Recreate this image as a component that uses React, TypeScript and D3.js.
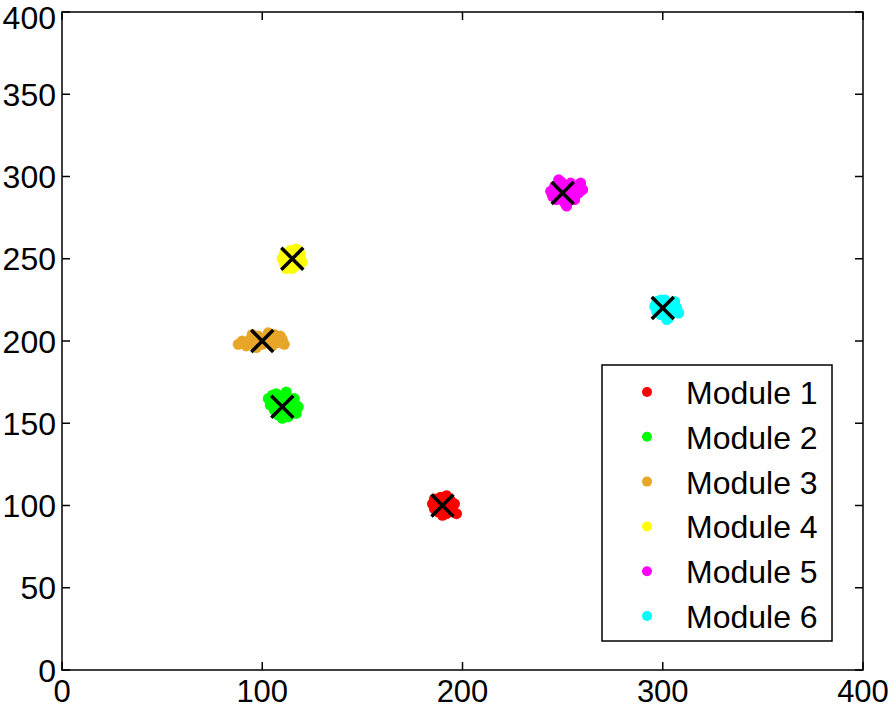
import React from "react";
import * as d3 from "d3";

const moduleNames = ["Module 1", "Module 2", "Module 3", "Module 4", "Module 5", "Module 6"];
const moduleColors = ["#ff0000", "#00ff00", "#e8a628", "#ffff00", "#ff00ff", "#00ffff"];

const module1: [number, number][] = [[185,101],[186,98],[187,103],[188,96],[189,105],[190,99],[191,102],[192,95],[193,104],[194,99],[195,97],[196,101],[197,95],[188,100],[190,94],[192,106],[186,104],[194,103],[191,97],[189,101]];
const module2: [number, number][] = [[103,165],[104,161],[105,167],[106,158],[107,163],[108,155],[109,166],[110,160],[111,157],[112,164],[113,154],[114,162],[115,158],[116,165],[117,156],[118,160],[107,168],[112,169],[110,153],[105,162]];
const module3: [number, number][] = [[88,198],[90,200],[92,197],[94,201],[96,199],[98,203],[100,198],[102,202],[104,200],[106,204],[108,199],[110,201],[111,198],[95,204],[103,205],[97,196],[105,197],[109,203],[93,199],[101,201]];
const module4: [number, number][] = [[110,250],[111,247],[112,253],[113,245],[114,255],[115,249],[116,252],[117,246],[118,254],[119,250],[120,248],[112,244],[117,256],[114,251],[116,247],[113,250],[118,251],[115,244],[111,253],[119,253]];
const module5: [number, number][] = [[244,291],[245,288],[246,294],[247,286],[248,292],[249,297],[250,289],[251,284],[252,293],[253,288],[254,296],[255,291],[256,286],[257,294],[258,290],[259,296],[260,292],[252,282],[248,298],[250,295]];
const module6: [number, number][] = [[296,221],[297,218],[298,223],[299,216],[300,221],[301,225],[302,219],[303,214],[304,222],[305,218],[306,224],[307,220],[308,217],[299,225],[302,213],[305,222],[300,218],[297,224],[304,216],[301,220]];
const modulePoints = [module1, module2, module3, module4, module5, module6];

const centers: [number, number][] = [[190,100],[110,160],[100,200],[115,250],[250,290],[300,220]];

const xTicks = [0, 100, 200, 300, 400];
const yTicks = [0, 50, 100, 150, 200, 250, 300, 350, 400];

const W = 892, H = 709;
const M = { left: 62, right: 29, top: 12, bottom: 39 };
const FONT = "'Liberation Sans', Arial, Helvetica, sans-serif";

export default function App() {
  const x = d3.scaleLinear().domain([0, 400]).range([M.left, W - M.right]);
  const y = d3.scaleLinear().domain([0, 400]).range([H - M.bottom, M.top]);
  const x0 = M.left, x1 = W - M.right, y0 = H - M.bottom, y1 = M.top;
  const tl = 8;
  const lg = { x: 602, y: 365, w: 230, h: 276 };
  return (
    <svg width={W} height={H} style={{ position: "absolute", left: 0, top: 0, background: "#fff" }} fontFamily={FONT}>
      <rect x={0} y={0} width={W} height={H} fill="#fff" />
      {modulePoints.map((pts, i) => (
        <g key={i} fill={moduleColors[i]}>
          {pts.map((p, j) => (
            <circle key={j} cx={x(p[0])} cy={y(p[1])} r={5.5} />
          ))}
        </g>
      ))}
      {centers.map((c, i) => {
        const cx = x(c[0]), cy = y(c[1]), s = 11;
        return (
          <path key={i} d={`M${cx - s},${cy - s}L${cx + s},${cy + s}M${cx - s},${cy + s}L${cx + s},${cy - s}`} stroke="#000" strokeWidth={3.5} />
        );
      })}
      <rect x={x0} y={y1} width={x1 - x0} height={y0 - y1} fill="none" stroke="#000" strokeWidth={1.5} />
      {xTicks.map((t) => (
        <g key={"x" + t}>
          <line x1={x(t)} x2={x(t)} y1={y0} y2={y0 - tl} stroke="#000" strokeWidth={1.5} />
          <line x1={x(t)} x2={x(t)} y1={y1} y2={y1 + tl} stroke="#000" strokeWidth={1.5} />
          <text x={x(t)} y={702} textAnchor="middle" fontSize={31}>{t}</text>
        </g>
      ))}
      {yTicks.map((t) => (
        <g key={"y" + t}>
          <line x1={x0} x2={x0 + tl} y1={y(t)} y2={y(t)} stroke="#000" strokeWidth={1.5} />
          <line x1={x1} x2={x1 - tl} y1={y(t)} y2={y(t)} stroke="#000" strokeWidth={1.5} />
          <text x={56} y={Math.max(y(t) + 11.5, 29)} textAnchor="end" fontSize={32}>{t}</text>
        </g>
      ))}
      <rect x={lg.x} y={lg.y} width={lg.w} height={lg.h} fill="#fff" stroke="#000" strokeWidth={1.5} />
      {moduleNames.map((n, i) => {
        const ry = 392 + i * 44.8;
        return (
          <g key={n}>
            <circle cx={647} cy={ry} r={5} fill={moduleColors[i]} />
            <text x={686} y={ry + 12} fontSize={32}>{n}</text>
          </g>
        );
      })}
    </svg>
  );
}
